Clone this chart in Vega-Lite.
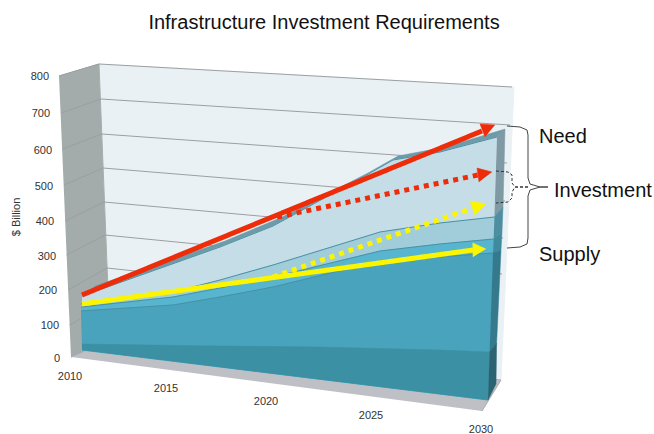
{
"$schema":"https://vega.github.io/schema/vega-lite/v6.json",
"width":654,"height":389,"autosize":"none","padding":{"top":45,"left":0,"right":0,"bottom":0},
"background":"white",
"config":{"view":{"stroke":null},"font":"Liberation Sans"},
"title":{"text":"Infrastructure Investment Requirements","fontSize":20,"font":"Liberation Sans","fontWeight":"normal","color":"#111111","anchor":"middle","dx":-3,"offset":12},
"datasets":{
"back":[
{"part":"wall","year":2010.95,"billion":882},{"part":"wall","year":2031.7,"billion":813},{"part":"wall","year":2031.05,"billion":-66},{"part":"wall","year":2011.5,"billion":54},
{"part":"side","year":2008.95,"billion":846},{"part":"side","year":2010.95,"billion":882},{"part":"side","year":2011.5,"billion":54},{"part":"side","year":2009.55,"billion":3},
{"part":"floor","year":2009.55,"billion":3},{"part":"floor","year":2011.5,"billion":54},{"part":"floor","year":2031.05,"billion":-66},{"part":"floor","year":2030.1,"billion":-159}
],
"grid":[
{"level":800,"year":2008.95,"billion":846},{"level":800,"year":2010.95,"billion":882},{"level":800,"year":2031.6,"billion":813},
{"level":700,"year":2009.05,"billion":735},{"level":700,"year":2011.04,"billion":777},{"level":700,"year":2031.5,"billion":699},
{"level":600,"year":2009.13,"billion":627},{"level":600,"year":2011.09,"billion":672},{"level":600,"year":2031.35,"billion":585},
{"level":500,"year":2009.2,"billion":519},{"level":500,"year":2011.15,"billion":570},{"level":500,"year":2031.25,"billion":471},
{"level":400,"year":2009.25,"billion":411},{"level":400,"year":2011.2,"billion":468},{"level":400,"year":2031.15,"billion":360},
{"level":300,"year":2009.33,"billion":309},{"level":300,"year":2011.25,"billion":369},{"level":300,"year":2031.1,"billion":252},
{"level":200,"year":2009.41,"billion":204},{"level":200,"year":2011.35,"billion":270},{"level":200,"year":2030.9,"billion":144},
{"level":100,"year":2009.48,"billion":99},{"level":100,"year":2011.4,"billion":165},{"level":100,"year":2030.85,"billion":39}
],
"front":[
{"part":"topface","year":2010.1,"billion":186},{"part":"topface","year":2017,"billion":333},{"part":"topface","year":2019.65,"billion":396},{"part":"topface","year":2024.15,"billion":543},{"part":"topface","year":2025.65,"billion":594},{"part":"topface","year":2028,"billion":618},{"part":"topface","year":2030.85,"billion":663},{"part":"topface","year":2031.25,"billion":687},{"part":"topface","year":2028.25,"billion":633},{"part":"topface","year":2025.9,"billion":606},{"part":"topface","year":2024.4,"billion":555},{"part":"topface","year":2020,"billion":420},{"part":"topface","year":2017.25,"billion":351},{"part":"topface","year":2010.75,"billion":216},
{"part":"need","year":2010.1,"billion":186,"edge":1},{"part":"need","year":2017,"billion":333,"edge":1},{"part":"need","year":2019.65,"billion":396,"edge":1},{"part":"need","year":2024.15,"billion":543,"edge":1},{"part":"need","year":2025.65,"billion":594,"edge":1},{"part":"need","year":2028,"billion":618,"edge":1},{"part":"need","year":2030.85,"billion":663,"edge":1},{"part":"need","year":2030.4,"billion":-126},{"part":"need","year":2010.1,"billion":24},
{"part":"second","year":2010.05,"billion":162,"edge":1},{"part":"second","year":2014.65,"billion":198,"edge":1},{"part":"second","year":2017,"billion":234,"edge":1},{"part":"second","year":2019.65,"billion":279,"edge":1},{"part":"second","year":2025,"billion":378,"edge":1},{"part":"second","year":2028,"billion":405,"edge":1},{"part":"second","year":2030.72,"billion":423,"edge":1},{"part":"second","year":2030.4,"billion":-126},{"part":"second","year":2010.1,"billion":24},
{"part":"third","year":2010.05,"billion":153,"edge":1},{"part":"third","year":2014.65,"billion":183,"edge":1},{"part":"third","year":2017,"billion":210,"edge":1},{"part":"third","year":2019.65,"billion":243,"edge":1},{"part":"third","year":2025,"billion":321,"edge":1},{"part":"third","year":2028,"billion":342,"edge":1},{"part":"third","year":2030.68,"billion":357,"edge":1},{"part":"third","year":2030.4,"billion":-126},{"part":"third","year":2010.1,"billion":24},
{"part":"main","year":2010.05,"billion":141,"edge":1},{"part":"main","year":2014.65,"billion":159,"edge":1},{"part":"main","year":2017,"billion":183,"edge":1},{"part":"main","year":2019.65,"billion":213,"edge":1},{"part":"main","year":2025,"billion":291,"edge":1},{"part":"main","year":2028,"billion":303,"edge":1},{"part":"main","year":2030.65,"billion":315,"edge":1},{"part":"main","year":2030.4,"billion":-126},{"part":"main","year":2010.1,"billion":24},
{"part":"dark","year":2010.1,"billion":42},{"part":"dark","year":2017,"billion":36},{"part":"dark","year":2022,"billion":33},{"part":"dark","year":2028,"billion":24},{"part":"dark","year":2030.48,"billion":18},{"part":"dark","year":2030.4,"billion":-126},{"part":"dark","year":2010.1,"billion":24},
{"part":"s1","year":2030.85,"billion":663},{"part":"s1","year":2031.25,"billion":687},{"part":"s1","year":2031.15,"billion":453},{"part":"s1","year":2030.72,"billion":423},
{"part":"s2","year":2030.72,"billion":423},{"part":"s2","year":2031.15,"billion":453},{"part":"s2","year":2031.1,"billion":378},{"part":"s2","year":2030.68,"billion":357},
{"part":"s3","year":2030.68,"billion":357},{"part":"s3","year":2031.1,"billion":378},{"part":"s3","year":2031.05,"billion":324},{"part":"s3","year":2030.65,"billion":315},
{"part":"s4","year":2030.65,"billion":315},{"part":"s4","year":2031.05,"billion":324},{"part":"s4","year":2030.83,"billion":45},{"part":"s4","year":2030.48,"billion":18},
{"part":"s5","year":2030.48,"billion":18},{"part":"s5","year":2030.83,"billion":45},{"part":"s5","year":2030.8,"billion":-78},{"part":"s5","year":2030.4,"billion":-126}
],
"shafts":[
{"arrow":"investment need","year":2019.85,"billion":423},{"arrow":"investment need","year":2029.9,"billion":549},
{"arrow":"investment supply","year":2019.65,"billion":243},{"arrow":"investment supply","year":2029.5,"billion":447},
{"arrow":"need","year":2010.1,"billion":189},{"arrow":"need","year":2030.1,"billion":681},
{"arrow":"supply","year":2010.1,"billion":162},{"arrow":"supply","year":2029.65,"billion":324}
],
"heads":[
{"arrow":"need","year":2030.75,"billion":699},{"arrow":"need","year":2030,"billion":702},{"arrow":"need","year":2030.25,"billion":663},
{"arrow":"supply","year":2030.3,"billion":327},{"arrow":"supply","year":2029.64,"billion":345},{"arrow":"supply","year":2029.65,"billion":303},
{"arrow":"investment need","year":2030.6,"billion":558},{"arrow":"investment need","year":2029.85,"billion":570},{"arrow":"investment need","year":2029.95,"billion":528},
{"arrow":"investment supply","year":2030.3,"billion":462},{"arrow":"investment supply","year":2029.5,"billion":471},{"arrow":"investment supply","year":2029.75,"billion":429}
],
"brace":[
{"year":2031.35,"billion":696},{"year":2032,"billion":693},{"year":2032.35,"billion":684},{"year":2032.4,"billion":669},{"year":2032.4,"billion":540},{"year":2032.5,"billion":522},{"year":2033,"billion":513},{"year":2033.4,"billion":513},{"year":2033,"billion":513},{"year":2032.5,"billion":504},{"year":2032.4,"billion":486},{"year":2032.4,"billion":360},{"year":2032.35,"billion":342},{"year":2032,"billion":333},{"year":2031.35,"billion":330}
],
"dashbrace":[
{"year":2030.8,"billion":561},{"year":2031.4,"billion":558},{"year":2031.6,"billion":549},{"year":2031.6,"billion":525},{"year":2031.75,"billion":513},{"year":2032.45,"billion":513},{"year":2031.75,"billion":513},{"year":2031.6,"billion":498},{"year":2031.6,"billion":480},{"year":2031.4,"billion":468},{"year":2030.8,"billion":465}
],
"ylabels":[
{"label":"800","year":2008.45,"billion":843},{"label":"700","year":2008.5,"billion":732},{"label":"600","year":2008.6,"billion":621},{"label":"500","year":2008.65,"billion":513},{"label":"400","year":2008.7,"billion":408},{"label":"300","year":2008.8,"billion":303},{"label":"200","year":2008.85,"billion":201},{"label":"100","year":2008.95,"billion":96},{"label":"0","year":2009,"billion":-3}
],
"xlabels":[
{"label":"2010","year":2009.5,"billion":-57},{"label":"2015","year":2014.3,"billion":-93},{"label":"2020","year":2019.3,"billion":-132},{"label":"2025","year":2024.55,"billion":-174},{"label":"2030","year":2030.05,"billion":-216}
],
"ytitle":[{"label":"$ Billion","year":2006.85,"billion":423}],
"notes":[
{"label":"Need","year":2032.95,"billion":645},{"label":"Investment","year":2033.7,"billion":483},{"label":"Supply","year":2032.95,"billion":291}
]
},
"encoding":{
"x":{"field":"year","type":"quantitative","axis":null,"scale":{"domain":[2006,2038.7],"nice":false,"zero":false}},
"y":{"field":"billion","type":"quantitative","axis":null,"scale":{"domain":[-228,939],"nice":false,"zero":false}}
},
"layer":[
{"data":{"name":"back"},"mark":{"type":"line","strokeWidth":1,"clip":false},
"encoding":{"order":{"value":null},
"fill":{"field":"part","type":"nominal","legend":null,"scale":{"domain":["wall","side","floor"],"range":["#eaf1f5","#a4abab","#bec0c5"]}},
"stroke":{"field":"part","type":"nominal","legend":null,"scale":{"domain":["wall","side","floor"],"range":["#eaf1f5","#a8aeae","#a9abb0"]}}}},
{"data":{"name":"grid"},"mark":{"type":"line","strokeWidth":1,"color":"#9b9fa1"},
"encoding":{"order":{"value":null},"detail":{"field":"level","type":"nominal"}}},
{"data":{"name":"front"},"mark":{"type":"line","strokeWidth":0.5},
"encoding":{"order":{"value":null},
"fill":{"field":"part","type":"nominal","legend":null,"scale":{"domain":["topface","need","second","third","main","dark","s1","s2","s3","s4","s5"],"range":["#6f9aa8","#c5dde6","#a0cdd9","#57b5cf","#4aa3bd","#3b90a3","#7f99a5","#4d8fa1","#3f8a9c","#34798c","#2c6373"]}},
"stroke":{"field":"part","type":"nominal","legend":null,"scale":{"domain":["topface","need","second","third","main","dark","s1","s2","s3","s4","s5"],"range":["#6f9aa8","#c5dde6","#a0cdd9","#57b5cf","#4aa3bd","#3b90a3","#7f99a5","#4d8fa1","#3f8a9c","#34798c","#2c6373"]}}}},
{"data":{"name":"front"},"transform":[{"filter":"datum.edge===1"}],"mark":{"type":"line","strokeWidth":1,"color":"#4a90a4"},
"encoding":{"order":{"value":null},"detail":{"field":"part","type":"nominal"}}},
{"data":{"name":"shafts"},"mark":{"type":"line"},
"encoding":{"order":{"value":null},
"stroke":{"field":"arrow","type":"nominal","legend":null,"scale":{"domain":["investment need","investment supply","need","supply"],"range":["#ee2c0a","#fbf500","#ee2c0a","#fbf500"]}},
"strokeDash":{"field":"arrow","type":"nominal","legend":null,"scale":{"domain":["investment need","investment supply","need","supply"],"range":[[5,5],[5,5],[1,0],[1,0]]}},
"strokeWidth":{"field":"arrow","type":"nominal","legend":null,"scale":{"domain":["investment need","investment supply","need","supply"],"range":[5,5,6.5,6]}}}},
{"data":{"name":"heads"},"mark":{"type":"line","strokeWidth":0.5},
"encoding":{"order":{"value":null},
"fill":{"field":"arrow","type":"nominal","legend":null,"scale":{"domain":["investment need","investment supply","need","supply"],"range":["#ee2c0a","#fbf500","#ee2c0a","#fbf500"]}},
"stroke":{"field":"arrow","type":"nominal","legend":null,"scale":{"domain":["investment need","investment supply","need","supply"],"range":["#ee2c0a","#fbf500","#ee2c0a","#fbf500"]}}}},
{"data":{"name":"brace"},"mark":{"type":"line","strokeWidth":1,"color":"#444444"},"encoding":{"order":{"value":null}}},
{"data":{"name":"dashbrace"},"mark":{"type":"line","strokeWidth":1,"color":"#333333","strokeDash":[3,2]},"encoding":{"order":{"value":null}}},
{"data":{"name":"ylabels"},"mark":{"type":"text","fontSize":11,"color":"#333333","align":"right","baseline":"middle"},"encoding":{"text":{"field":"label"}}},
{"data":{"name":"xlabels"},"mark":{"type":"text","fontSize":11,"color":"#333333","align":"center","baseline":"middle"},"encoding":{"text":{"field":"label"}}},
{"data":{"name":"ytitle"},"mark":{"type":"text","fontSize":11,"color":"#333333","align":"center","baseline":"middle","angle":270},"encoding":{"text":{"field":"label"}}},
{"data":{"name":"notes"},"mark":{"type":"text","fontSize":20,"color":"#111111","align":"left","baseline":"alphabetic"},"encoding":{"text":{"field":"label"}}}
],
"resolve":{"scale":{"fill":"independent","stroke":"independent","strokeDash":"independent","strokeWidth":"independent"}}
}
